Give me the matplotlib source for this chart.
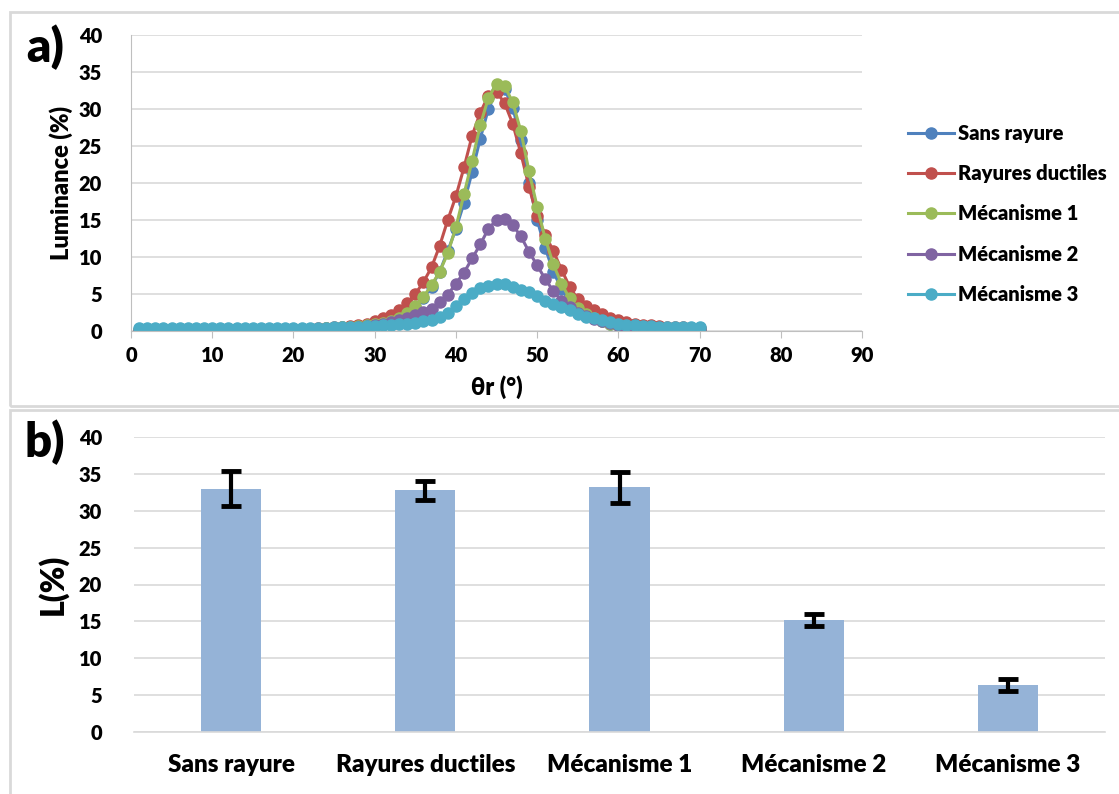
import numpy as np
import matplotlib
matplotlib.use("Agg")
import matplotlib.pyplot as plt
from matplotlib.patches import Rectangle

plt.rcParams['font.family'] = ['Lato', 'DejaVu Sans']
plt.rcParams['font.weight'] = 'bold'

# ---- panel a) : luminance vs reflection angle ----
theta = list(range(1, 71))

sans_rayure = [0.1, 0.1, 0.1, 0.1, 0.1, 0.1, 0.1, 0.1, 0.1, 0.1,
               0.12, 0.12, 0.13, 0.14, 0.15, 0.16, 0.17, 0.18, 0.2, 0.22,
               0.25, 0.28, 0.32, 0.36, 0.42, 0.48, 0.56, 0.66, 0.78, 0.95,
               1.15, 1.45, 1.9, 2.5, 3.3, 4.4, 6.0, 8.0, 10.8, 13.8,
               17.3, 21.5, 26.0, 30.0, 32.5, 32.7, 30.2, 25.8, 20.0, 15.0,
               11.2, 8.0, 5.7, 4.0, 2.9, 2.2, 1.7, 1.3, 1.0, 0.85,
               0.7, 0.6, 0.5, 0.45, 0.4, 0.35, 0.3, 0.3, 0.25, 0.25]
rayures_ductiles = [0.1, 0.1, 0.1, 0.1, 0.1, 0.1, 0.1, 0.1, 0.1, 0.12,
                    0.12, 0.13, 0.14, 0.15, 0.16, 0.17, 0.18, 0.2, 0.22, 0.25,
                    0.28, 0.32, 0.36, 0.42, 0.5, 0.6, 0.72, 0.86, 1.0, 1.3,
                    1.7, 2.2, 2.9, 3.8, 5.0, 6.6, 8.6, 11.5, 15.0, 18.2,
                    22.1, 26.4, 29.5, 31.8, 32.3, 30.8, 28.0, 24.0, 19.5, 15.5,
                    13.0, 10.8, 8.3, 6.0, 4.3, 3.4, 2.8, 2.3, 1.8, 1.5,
                    1.2, 1.0, 0.85, 0.75, 0.65, 0.6, 0.55, 0.5, 0.45, 0.4]
mecanisme_1 = [0.1, 0.1, 0.1, 0.1, 0.1, 0.1, 0.1, 0.1, 0.1, 0.1,
               0.12, 0.12, 0.13, 0.14, 0.15, 0.16, 0.17, 0.18, 0.2, 0.22,
               0.25, 0.28, 0.32, 0.36, 0.42, 0.48, 0.56, 0.66, 0.78, 0.9,
               1.1, 1.4, 1.8, 2.5, 3.4, 4.6, 6.2, 8.0, 10.5, 14.0,
               18.5, 23.0, 27.8, 31.5, 33.4, 33.1, 30.9, 27.0, 21.6, 16.8,
               12.5, 9.0, 6.4, 4.4, 3.1, 2.3, 1.7, 1.3, 1.0, 0.8,
               0.65, 0.55, 0.45, 0.4, 0.35, 0.3, 0.3, 0.25, 0.25, 0.2]
mecanisme_2 = [0.05, 0.05, 0.05, 0.05, 0.05, 0.05, 0.05, 0.05, 0.05, 0.05,
               0.06, 0.06, 0.07, 0.08, 0.09, 0.1, 0.11, 0.12, 0.14, 0.16,
               0.18, 0.2, 0.23, 0.27, 0.32, 0.38, 0.45, 0.55, 0.65, 0.8,
               1.0, 1.25, 1.5, 1.8, 2.2, 2.6, 3.0, 3.9, 4.9, 6.4,
               7.9, 9.8, 11.7, 13.8, 15.0, 15.2, 14.3, 12.8, 10.7, 8.9,
               7.0, 5.4, 4.1, 3.2, 2.5, 2.0, 1.6, 1.3, 1.05, 0.85,
               0.7, 0.55, 0.45, 0.35, 0.3, 0.25, 0.2, 0.2, 0.15, 0.15]
mecanisme_3 = [0.35, 0.35, 0.35, 0.35, 0.35, 0.35, 0.35, 0.35, 0.35, 0.35,
               0.35, 0.35, 0.35, 0.35, 0.35, 0.35, 0.35, 0.35, 0.36, 0.37,
               0.38, 0.4, 0.42, 0.45, 0.48, 0.52, 0.56, 0.6, 0.65, 0.7,
               0.75, 0.8, 0.9, 1.0, 1.1, 1.3, 1.5, 1.9, 2.5, 3.4,
               4.3, 5.2, 5.8, 6.1, 6.3, 6.3, 6.0, 5.6, 5.3, 4.7,
               4.1, 3.6, 3.2, 2.8, 2.3, 1.95, 1.7, 1.45, 1.2, 1.0,
               0.85, 0.75, 0.7, 0.65, 0.6, 0.6, 0.55, 0.5, 0.5, 0.5]

series_names = ["Sans rayure", "Rayures ductiles", "Mécanisme 1", "Mécanisme 2", "Mécanisme 3"]
series_vals = [sans_rayure, rayures_ductiles, mecanisme_1, mecanisme_2, mecanisme_3]
colors = ["#4F81BD", "#C0504D", "#9BBB59", "#8064A2", "#4BACC6"]

# ---- panel b) : peak luminance per sample ----
categories = ["Sans rayure", "Rayures ductiles", "Mécanisme 1", "Mécanisme 2", "Mécanisme 3"]
L_mean = [33.0, 32.8, 33.2, 15.2, 6.35]
L_err = [2.4, 1.3, 2.1, 0.8, 0.8]

W, H = 1119, 794
fig = plt.figure(figsize=(W / 100, H / 100), dpi=100)

grid_c = "#d9d9d9"
axis_c = "#bfbfbf"
wt = "heavy"

# panel borders
fig.patches.append(Rectangle((10 / W, 1 - 406 / H), 1.2, (406 - 12) / H, transform=fig.transFigure,
                             fill=False, edgecolor=grid_c, lw=2))
fig.patches.append(Rectangle((10 / W, -0.1), 1.2, 0.1 + (H - 410) / H, transform=fig.transFigure,
                             fill=False, edgecolor=grid_c, lw=2))

# top axes
ax1 = fig.add_axes([131 / W, 1 - 331 / H, (862 - 131) / W, (331 - 35) / H])
for name, vals, c in zip(series_names, series_vals, colors):
    ax1.plot(theta, vals, color=c, lw=2.2, marker="o", ms=8, label=name)
ax1.set_xlim(0, 90)
ax1.set_ylim(0, 40)
ax1.set_xticks(range(0, 91, 10))
ax1.set_yticks(range(0, 41, 5))
ax1.grid(axis="y", color=grid_c, lw=1.2)
ax1.set_axisbelow(True)
for s in ["top", "right"]:
    ax1.spines[s].set_visible(False)
ax1.spines["left"].set_color(axis_c)
ax1.spines["bottom"].set_color(axis_c)
ax1.tick_params(axis="x", length=5, color=axis_c, labelsize=14.5, pad=6)
ax1.tick_params(axis="y", length=0, labelsize=14.5, pad=21)
for lab in ax1.get_xticklabels() + ax1.get_yticklabels():
    lab.set_fontweight(wt)
ax1.set_ylabel("Luminance (%)", fontsize=17, fontweight=wt, labelpad=4)
ax1.set_xlabel("θr (°)", fontsize=17, fontweight=wt, labelpad=7)
leg = ax1.legend(loc="upper left", bbox_to_anchor=(890 / W, 1 - 106 / H), bbox_transform=fig.transFigure,
                 frameon=False, fontsize=14.5, handlelength=2.3, labelspacing=1.05, handletextpad=0.2)
for t in leg.get_texts():
    t.set_fontweight(wt)

# bottom axes
ax2 = fig.add_axes([134 / W, 1 - 732 / H, (1105 - 134) / W, (732 - 437) / H])
xpos = np.arange(len(categories))
ax2.bar(xpos, L_mean, width=0.31, color="#95B3D7", zorder=2)
ax2.errorbar(xpos, L_mean, yerr=L_err, fmt="none", ecolor="black", elinewidth=3,
             capsize=7, capthick=3.5, zorder=3)
ax2.set_xlim(-0.5, len(categories) - 0.5)
ax2.set_ylim(0, 40)
ax2.set_yticks(range(0, 41, 5))
ax2.set_xticks(xpos)
ax2.set_xticklabels(categories)
ax2.grid(axis="y", color=grid_c, lw=1.2)
ax2.set_axisbelow(True)
for s in ["top", "right", "left"]:
    ax2.spines[s].set_visible(False)
ax2.spines["bottom"].set_color(grid_c)
ax2.spines["bottom"].set_linewidth(1.2)
ax2.tick_params(axis="x", length=0, labelsize=17.5, pad=16)
ax2.tick_params(axis="y", length=0, labelsize=14.5, pad=23)
for lab in ax2.get_xticklabels() + ax2.get_yticklabels():
    lab.set_fontweight(wt)
ax2.set_ylabel("L(%)", fontsize=23, fontweight=wt, labelpad=8)

fig.text(45 / W, 1 - 47 / H, "a)", fontsize=34, fontweight=wt, ha="center", va="center")
fig.text(45 / W, 1 - 442 / H, "b)", fontsize=34, fontweight=wt, ha="center", va="center")

fig.savefig("out.png", dpi=100)
